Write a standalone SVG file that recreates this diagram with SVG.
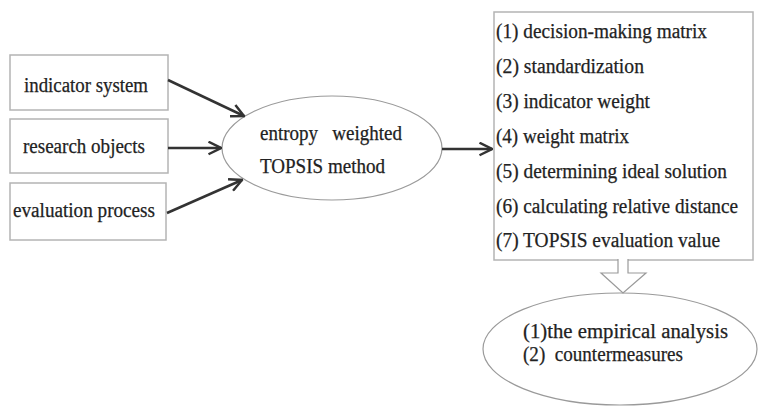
<svg xmlns="http://www.w3.org/2000/svg" width="758" height="407" viewBox="0 0 758 407" font-family="'Liberation Serif', 'Times New Roman', 'DejaVu Serif', serif">
<style>
.box{fill:#fff;stroke:#b4b4b4;stroke-width:1.5}
.ell{fill:#fff;stroke:#9a9a9a;stroke-width:1.2}
.t{font-size:20px;fill:#222;stroke:#222;stroke-width:0.25;white-space:pre}
.c{stroke:#333;stroke-width:2.5;fill:none;marker-end:url(#ah)}
</style>
<defs>
<marker id="ah" viewBox="0 0 12 12" refX="11" refY="6" markerWidth="6" markerHeight="6" markerUnits="strokeWidth" orient="auto">
<path d="M1,1 L11,6 L1,11" fill="none" stroke="#333" stroke-width="2"/>
</marker>
</defs>
<rect width="758" height="407" fill="#fff"/>
<g id="n-indicator">
<rect class="box" x="10" y="55" width="158" height="55"/>
<text class="t" x="24" y="92" textLength="124" lengthAdjust="spacingAndGlyphs">indicator system</text>
</g>
<g id="n-research">
<rect class="box" x="10" y="119" width="158" height="54"/>
<text class="t" x="23" y="153" textLength="122" lengthAdjust="spacingAndGlyphs">research objects</text>
</g>
<g id="n-evaluation">
<rect class="box" x="10" y="183" width="156" height="57"/>
<text class="t" x="13" y="217" textLength="142" lengthAdjust="spacingAndGlyphs">evaluation process</text>
</g>
<g id="n-topsis">
<ellipse class="ell" cx="332" cy="148" rx="110" ry="52"/>
<text class="t" x="260" y="140" textLength="142" lengthAdjust="spacingAndGlyphs" xml:space="preserve">entropy   weighted</text>
<text class="t" x="260" y="173" textLength="125" lengthAdjust="spacingAndGlyphs">TOPSIS method</text>
</g>
<g id="n-steps">
<rect class="box" x="494" y="12" width="259" height="248"/>
<text class="t" x="496" y="38" textLength="211" lengthAdjust="spacingAndGlyphs">(1) decision-making matrix</text>
<text class="t" x="496" y="73" textLength="148" lengthAdjust="spacingAndGlyphs">(2) standardization</text>
<text class="t" x="496" y="108" textLength="154" lengthAdjust="spacingAndGlyphs">(3) indicator weight</text>
<text class="t" x="496" y="143" textLength="133" lengthAdjust="spacingAndGlyphs">(4) weight matrix</text>
<text class="t" x="496" y="178" textLength="231" lengthAdjust="spacingAndGlyphs">(5) determining ideal solution</text>
<text class="t" x="496" y="213" textLength="242" lengthAdjust="spacingAndGlyphs">(6) calculating relative distance</text>
<text class="t" x="496" y="247" textLength="224" lengthAdjust="spacingAndGlyphs">(7) TOPSIS evaluation value</text>
</g>
<g id="n-result">
<ellipse class="ell" cx="620" cy="349" rx="137" ry="56"/>
<text class="t" x="523" y="338" textLength="205" lengthAdjust="spacingAndGlyphs">(1)the empirical analysis</text>
<text class="t" x="523" y="361" textLength="160" lengthAdjust="spacingAndGlyphs" xml:space="preserve">(2)  countermeasures</text>
</g>
<g id="connectors">
<line class="c" x1="168" y1="80" x2="244" y2="116"/>
<line class="c" x1="168" y1="148" x2="221" y2="148"/>
<line class="c" x1="167" y1="213" x2="242" y2="180"/>
<line class="c" x1="442" y1="149" x2="492" y2="149"/>
<path d="M618,259 L618,273 L601,273 L623,293 L646,273 L628,273 L628,259" fill="#fff" stroke="#9a9a9a" stroke-width="1.2"/>
</g>
</svg>
